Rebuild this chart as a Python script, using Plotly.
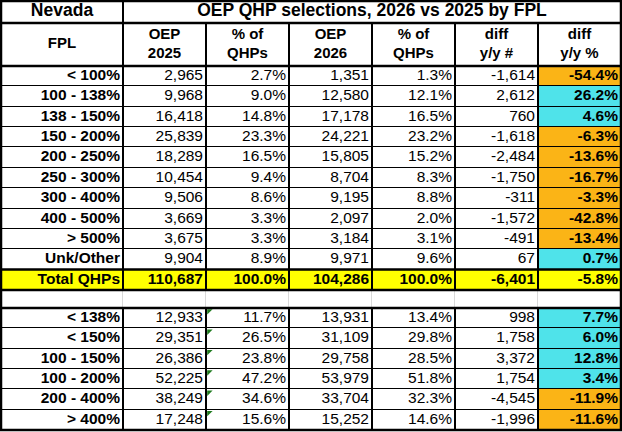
import plotly.graph_objects as go

# ---- data ----
title_left = "Nevada"
title_right = "OEP QHP selections, 2026 vs 2025 by FPL"
headers = ["FPL", "OEP<br>2025", "% of<br>QHPs", "OEP<br>2026", "% of<br>QHPs", "diff<br>y/y #", "diff<br>y/y %"]

fpl = ["< 100%", "100 - 138%", "138 - 150%", "150 - 200%", "200 - 250%", "250 - 300%",
       "300 - 400%", "400 - 500%", "> 500%", "Unk/Other", "Total QHPs"]
oep_2025 = [2965, 9968, 16418, 25839, 18289, 10454, 9506, 3669, 3675, 9904, 110687]
pct_2025 = [2.7, 9.0, 14.8, 23.3, 16.5, 9.4, 8.6, 3.3, 3.3, 8.9, 100.0]
oep_2026 = [1351, 12580, 17178, 24221, 15805, 8704, 9195, 2097, 3184, 9971, 104286]
pct_2026 = [1.3, 12.1, 16.5, 23.2, 15.2, 8.3, 8.8, 2.0, 3.1, 9.6, 100.0]
diff_n = [-1614, 2612, 760, -1618, -2484, -1750, -311, -1572, -491, 67, -6401]
diff_pct = [-54.4, 26.2, 4.6, -6.3, -13.6, -16.7, -3.3, -42.8, -13.4, 0.7, -5.8]

grp = ["< 138%", "< 150%", "100 - 150%", "100 - 200%", "200 - 400%", "> 400%"]
grp_2025 = [12933, 29351, 26386, 52225, 38249, 17248]
grp_pct_2025 = [11.7, 26.5, 23.8, 47.2, 34.6, 15.6]
grp_2026 = [13931, 31109, 29758, 53979, 33704, 15252]
grp_pct_2026 = [13.4, 29.8, 28.5, 51.8, 32.3, 14.6]
grp_diff_n = [998, 1758, 3372, 1754, -4545, -1996]
grp_diff_pct = [7.7, 6.0, 12.8, 3.4, -11.9, -11.6]

# ---- sheet geometry (pixels) ----
W, H = 622, 432
col_w = [122, 83, 83, 83, 83, 83, 83]
TITLE_H, HEAD_H, ROW_H, BLANK_H = 22, 43, 20.36, 18
X0, Y0 = 1, 1

WHITE, YELLOW, CYAN, ORANGE, GRAY = 0, 1, 2, 3, 4
colorscale = []
for k, c in enumerate(["#ffffff", "#ffff00", "#4fe3ea", "#fbb416", "#d9d9d9"]):
    colorscale += [[k / 5, c], [(k + 1) / 5, c]]

FONT = "Liberation Sans, Arial, sans-serif"

col_edges = [X0]
for w in col_w:
    col_edges.append(col_edges[-1] + w)
x_right = col_edges[-1]


def fmt_n(v):
    return f"{v:,}"


def fmt_p(v):
    return f"{v:.1f}%"


def diff_color(v):
    return CYAN if v > 0 else ORANGE


# row blocks
y_title = [Y0, Y0 + TITLE_H]
y_head = [y_title[1], y_title[1] + HEAD_H]
n_main = len(fpl)
y_main = [y_head[1] + i * ROW_H for i in range(n_main + 1)]
y_blank = [y_main[-1], y_main[-1] + BLANK_H]
y_grp = [y_blank[1] + i * ROW_H for i in range(len(grp) + 1)]
y_bottom = y_grp[-1]

main_rows = list(zip(fpl, oep_2025, pct_2025, oep_2026, pct_2026, diff_n, diff_pct))
grp_rows = list(zip(grp, grp_2025, grp_pct_2025, grp_2026, grp_pct_2026, grp_diff_n, grp_diff_pct))

fig = go.Figure()


def add_cells(xe, ye, z, xgap=2, ygap=1):
    fig.add_trace(go.Heatmap(
        x=xe, y=ye, z=z, zmin=-0.5, zmax=4.5, colorscale=colorscale,
        showscale=False, xgap=xgap, ygap=ygap, hoverinfo="skip"))


# title row (merged cell on the right)
add_cells([X0, col_edges[1], x_right], y_title, [[WHITE, WHITE]])
# header + main block
z_head = [[WHITE] * len(col_w)]
z_main = []
for i, r in enumerate(main_rows):
    if r[0] == "Total QHPs":
        z_main.append([YELLOW] * len(col_w))
    else:
        z_main.append([WHITE] * (len(col_w) - 1) + [diff_color(r[6])])
add_cells(col_edges, y_head, z_head)
add_cells(col_edges, y_main, z_main)
# blank spacer row, light grid
add_cells(col_edges, y_blank, [[GRAY] * len(col_w)], xgap=0, ygap=0)
add_cells(col_edges, y_blank, [[WHITE] * len(col_w)], xgap=1, ygap=0)
# grouped block
add_cells(col_edges, y_grp, [[WHITE] * (len(col_w) - 1) + [diff_color(r[6])] for r in grp_rows])

# ---- text ----
tx, ty, tt, tsize, tpos = [], [], [], [], []


def put(x, y, s, size, pos):
    tx.append(x); ty.append(y); tt.append(s); tsize.append(size); tpos.append(pos)


TS, HS, BS = 15.5, 15, 17.5
put((X0 + col_edges[1]) / 2, sum(y_title) / 2, f"<b>{title_left}</b>", BS, "middle center")
put((col_edges[1] + x_right) / 2, sum(y_title) / 2, f"<b>{title_right}</b>", BS, "middle center")
for j, h in enumerate(headers):
    put((col_edges[j] + col_edges[j + 1]) / 2, sum(y_head) / 2, f"<b>{h}</b>", HS, "middle center")


def put_rows(rows, ys):
    for i, r in enumerate(rows):
        yc = (ys[i] + ys[i + 1]) / 2
        bold_row = r[0] == "Total QHPs"
        vals = [r[0], fmt_n(r[1]), fmt_p(r[2]), fmt_n(r[3]), fmt_p(r[4]), fmt_n(r[5]), fmt_p(r[6])]
        for j, s in enumerate(vals):
            if bold_row or j in (0, 6):
                s = f"<b>{s}</b>"
            put(col_edges[j + 1] - 3, yc, s, TS, "middle left")


put_rows(main_rows, y_main)
put_rows(grp_rows, y_grp)

fig.add_trace(go.Scatter(
    x=tx, y=ty, text=tt, mode="text", textposition=tpos,
    textfont=dict(family=FONT, size=tsize, color="#000000"),
    hoverinfo="skip", showlegend=False))

# excel error flags in the grouped block
fig.add_trace(go.Scatter(
    x=[col_edges[2] + 3] * len(grp), y=[y + 3 for y in y_grp[:-1]],
    mode="markers", marker=dict(symbol="triangle-nw", size=6, color="#1e7b1e"),
    hoverinfo="skip", showlegend=False))

# ---- borders ----
shapes = [dict(type="rect", x0=X0, x1=x_right, y0=Y0, y1=y_bottom, layer="below",
               fillcolor="#000000", line=dict(width=0))]
for y in [y_title[1], y_head[1], y_main[-2], y_main[-1], y_blank[1]]:
    shapes.append(dict(type="line", x0=X0, x1=x_right, y0=y, y1=y, line=dict(color="#000000", width=2.5)))
shapes.append(dict(type="rect", x0=X0, x1=x_right, y0=Y0, y1=y_bottom, line=dict(color="#000000", width=2.5)))

fig.update_layout(
    width=W, height=H, margin=dict(l=0, r=0, t=0, b=0),
    paper_bgcolor="#ffffff", plot_bgcolor="#ffffff",
    xaxis=dict(range=[0, W], visible=False, type="linear", fixedrange=True),
    yaxis=dict(range=[H, 0], visible=False, type="linear", fixedrange=True),
    shapes=shapes, showlegend=False)

# the page body has a default 8px margin; drop it so the sheet sits at the corner
fig.write_html("out.html", config={"displayModeBar": False},
               post_script="document.body.style.margin='0';")
